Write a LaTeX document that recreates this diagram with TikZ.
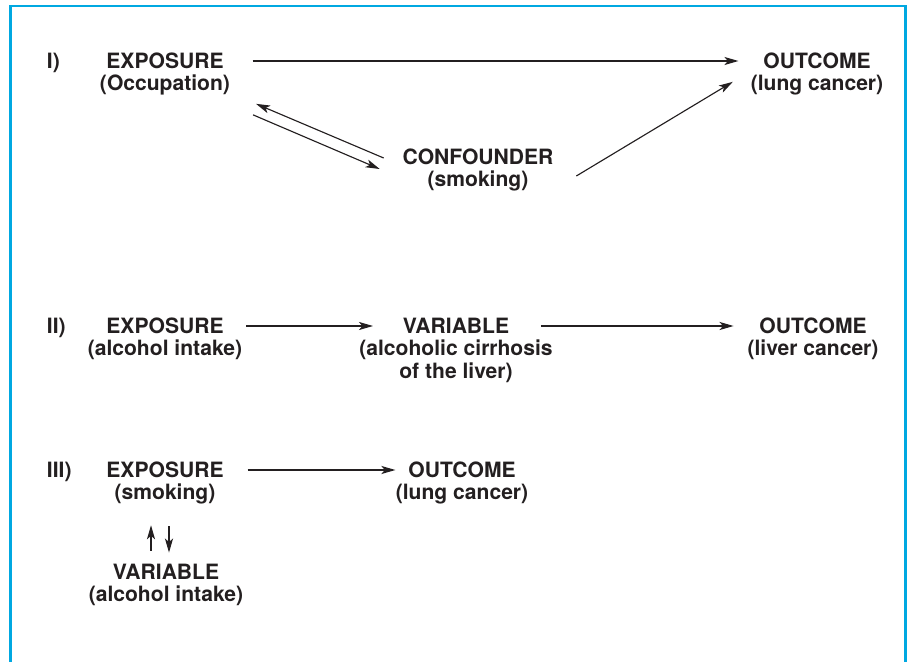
\documentclass[tikz,border=0pt]{standalone}
\usepackage{fontspec}
\setmainfont{TeX Gyre Heros}
\usepackage{tikz}
\usetikzlibrary{positioning,arrows.meta}
\definecolor{marcoazul}{RGB}{0,168,225}
\definecolor{tinta}{RGB}{35,31,32}

\begin{document}
\begin{tikzpicture}[x=0.02cm, y=-0.02cm,
    titulo/.style={font=\bfseries\fontsize{12}{13}\selectfont, text=tinta, inner sep=0pt,
                   outer sep=0pt, text height=10.5pt, text depth=2.5pt},
    sub/.style={titulo},
    num/.style={titulo, anchor=west},
    rel/.style={line width=0.65pt, draw=tinta, -{Stealth[length=8pt,width=4.6pt,inset=2pt]}},
    marco/.style={line width=1.7pt, draw=marcoazul}]
  \useasboundingbox (0,0) rectangle (910,662);
  \draw[marco] (10.5,662) -- (10.5,6) -- (905.5,6) -- (905.5,662);

  \node[num] (n1) at (47,61) {I)};
  \node[titulo] (e1) at (165,61) {EXPOSURE};
  \node[sub, below=0pt of e1] (e1s) {(Occupation)};
  \node[titulo] (o1) at (817,61) {OUTCOME};
  \node[sub, below=0pt of o1] (o1s) {(lung cancer)};
  \node[titulo] (c1) at (478,157) {CONFOUNDER};
  \node[sub, below=0pt of c1] (c1s) {(smoking)};
  \draw[rel, shorten <=16.5pt, shorten >=14.2pt] (e1) -- (o1);
  \draw[rel] ([shift={(-19,1)}]c1.west) -- ([shift={(26,20)}]e1s.east);
  \draw[rel] ([shift={(23,31)}]e1s.east) -- ([shift={(-23,12)}]c1.west);
  \draw[rel] ([shift={(23,19)}]c1.east) -- ([shift={(-18,-2)}]o1s.west);

  \node[num] (n2) at (47,326) {II)};
  \node[titulo] (e2) at (165,326) {EXPOSURE};
  \node[sub, below=0pt of e2] (e2s) {(alcohol intake)};
  \node[titulo] (v2) at (456,326) {VARIABLE};
  \node[sub, below=0pt of v2] (v2s) {(alcoholic cirrhosis};
  \node[sub, below=0pt of v2s] (v2t) {of the liver)};
  \node[titulo] (o2) at (813,326) {OUTCOME};
  \node[sub, below=0pt of o2] (o2s) {(liver cancer)};
  \draw[rel, shorten <=13pt, shorten >=17pt] (e2) -- (v2);
  \draw[rel, shorten <=18pt, shorten >=14.7pt] (v2) -- (o2);

  \node[num] (n3) at (47,470) {III)};
  \node[titulo] (e3) at (165,470) {EXPOSURE};
  \node[sub, below=0pt of e3] (e3s) {(smoking)};
  \node[titulo] (o3) at (462,470) {OUTCOME};
  \node[sub, below=0pt of o3] (o3s) {(lung cancer)};
  \node[titulo] (v3) at (166,572) {VARIABLE};
  \node[sub, below=0pt of v3] (v3s) {(alcohol intake)};
  \draw[rel, shorten <=13.7pt, shorten >=7.4pt] (e3) -- (o3);
  \draw[rel] ([shift={(-15,-10)}]v3.north) -- ([shift={(-14,21)}]e3s.south);
  \draw[rel] ([shift={(4,22)}]e3s.south) -- ([shift={(3,-8)}]v3.north);
\end{tikzpicture}
\end{document}
